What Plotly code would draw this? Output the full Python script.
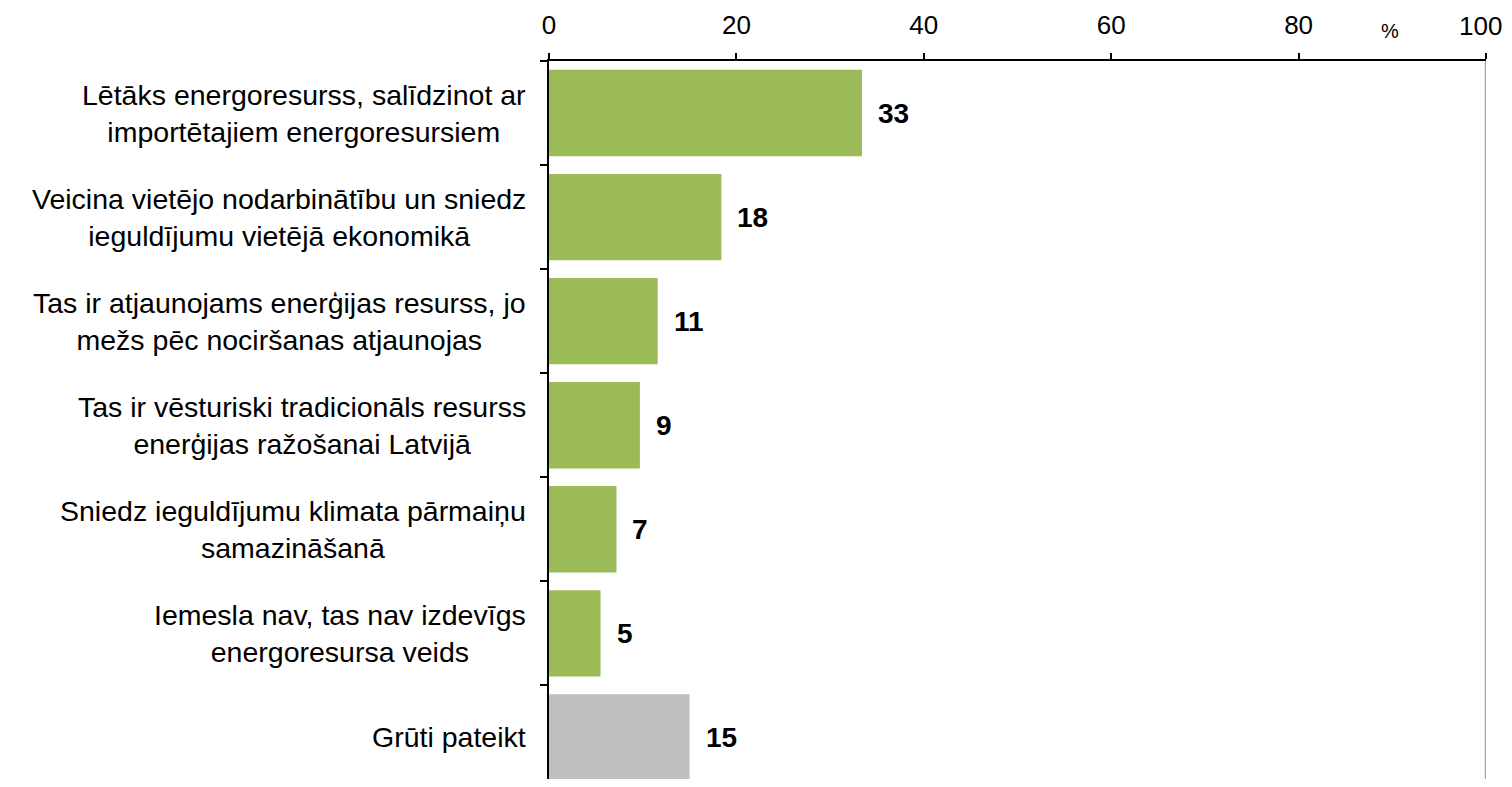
import plotly.graph_objects as go

categories = [
    "Lētāks energoresurss, salīdzinot ar<br>importētajiem energoresursiem",
    "Veicina vietējo nodarbinātību un sniedz<br>ieguldījumu vietējā ekonomikā",
    "Tas ir atjaunojams enerģijas resurss, jo<br>mežs pēc nociršanas atjaunojas",
    "Tas ir vēsturiski tradicionāls resurss<br>enerģijas ražošanai Latvijā",
    "Sniedz ieguldījumu klimata pārmaiņu<br>samazināšanā",
    "Iemesla nav, tas nav izdevīgs<br>energoresursa veids",
    "Grūti pateikt",
]
values = [33.4, 18.4, 11.6, 9.7, 7.2, 5.5, 15.0]
value_labels = ["33", "18", "11", "9", "7", "5", "15"]
bar_colors = ["#9BBB59"] * 6 + ["#BFBFBF"]
x_ticks = [0, 20, 40, 60, 80, 100]

FONT = "Liberation Sans, Arial, sans-serif"
cat_ids = [f"c{i}" for i in range(len(categories))]

fig = go.Figure()
fig.add_trace(go.Bar(
    y=cat_ids, x=values, orientation="h",
    marker=dict(color=bar_colors, line=dict(width=0)),
    hoverinfo="skip",
))

annotations = []
for cid, label in zip(cat_ids, categories):
    annotations.append(dict(
        x=0, xref="paper", y=cid, yref="y", text=label, showarrow=False,
        xanchor="right", yanchor="middle", align="center", xshift=-21,
        font=dict(family=FONT, size=28.5, color="#000000"),
    ))
for cid, v, t in zip(cat_ids, values, value_labels):
    annotations.append(dict(
        x=v, xref="x", y=cid, yref="y", text=f"<b>{t}</b>", showarrow=False,
        xanchor="left", yanchor="middle", xshift=14,
        font=dict(family=FONT, size=28, color="#000000"),
    ))
annotations.append(dict(
    x=89.8, xref="x", y=1, yref="paper", text="%", showarrow=False,
    xanchor="center", yanchor="middle", yshift=30,
    font=dict(family=FONT, size=20, color="#000000"),
))
# last tick label drawn as annotation so it stays inside the visible page
annotations.append(dict(
    x=x_ticks[-1], xref="x", y=1, yref="paper", text=str(x_ticks[-1]), showarrow=False,
    xanchor="right", yanchor="middle", xshift=18, yshift=35,
    font=dict(family=FONT, size=26, color="#000000"),
))

tick_text = [str(t) for t in x_ticks[:-1]] + [""]

fig.update_layout(
    width=1504, height=771,
    margin=dict(l=541, r=26, t=53, b=0, autoexpand=False),
    paper_bgcolor="white", plot_bgcolor="white",
    showlegend=False, bargap=0.17,
    annotations=annotations,
    font=dict(family=FONT, color="#000000"),
    shapes=[dict(type="line", xref="x", yref="paper", x0=100, x1=100, y0=0, y1=1,
                 line=dict(color="#A6A6A6", width=2.5))],
    xaxis=dict(
        side="top", range=[0, 100], tickvals=x_ticks, ticktext=tick_text,
        showgrid=False, zeroline=False, showline=True, linecolor="#000000", linewidth=1.5,
        ticks="outside", ticklen=6, tickcolor="#000000", tickwidth=1.5,
        tickfont=dict(family=FONT, size=26, color="#000000"), ticklabelstandoff=9,
        ticklabeloverflow="allow", automargin=False,
    ),
    yaxis=dict(
        type="category", categoryorder="array", categoryarray=cat_ids,
        range=[6.40, -0.5], showticklabels=False, showgrid=False, zeroline=False,
        showline=True, linecolor="#000000", linewidth=1.5,
        ticks="outside", ticklen=7, tickcolor="#000000", tickwidth=1.5,
        tickson="boundaries", automargin=False,
    ),
)

fig.write_html("out.html")
